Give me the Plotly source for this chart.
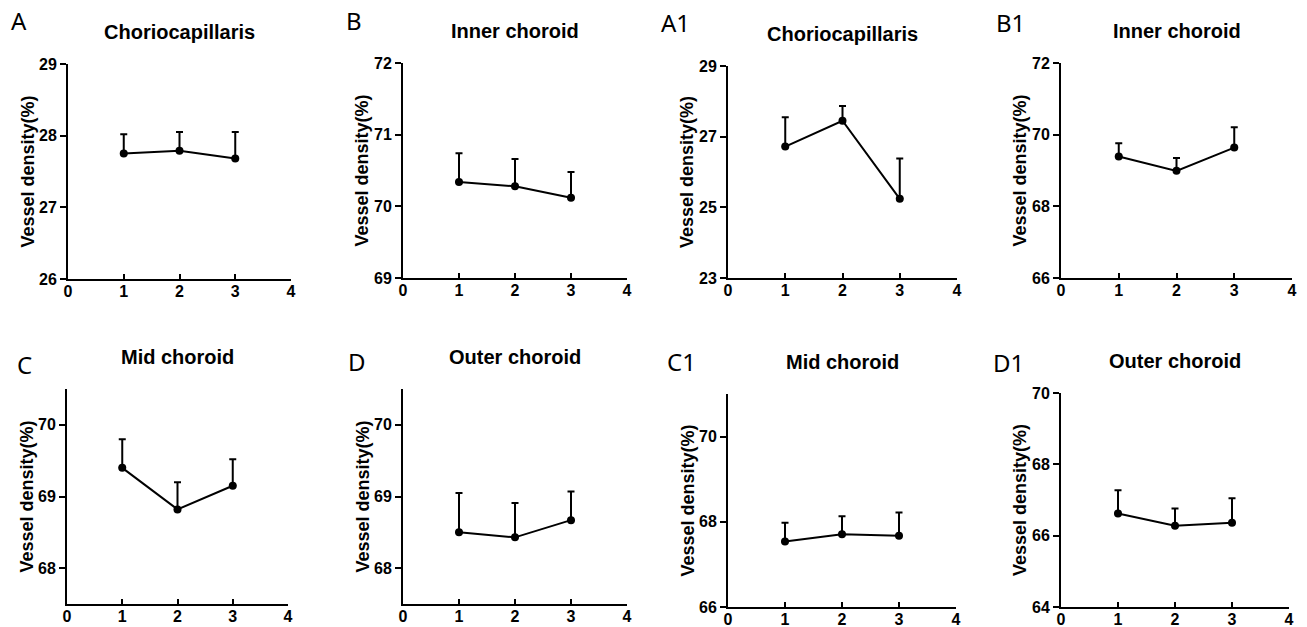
import plotly.graph_objects as go

W, H = 1307, 627

time_points = [1, 2, 3]
x_ticks = [0, 1, 2, 3, 4]

panel_letters = ["A", "B", "A1", "B1", "C", "D", "C1", "D1"]
panel_titles = ["Choriocapillaris", "Inner choroid", "Choriocapillaris", "Inner choroid",
                "Mid choroid", "Outer choroid", "Mid choroid", "Outer choroid"]

means_A = [27.75, 27.79, 27.68]
err_A = [0.27, 0.26, 0.37]
means_B = [70.34, 70.28, 70.12]
err_B = [0.40, 0.38, 0.36]
means_A1 = [26.72, 27.45, 25.24]
err_A1 = [0.83, 0.42, 1.14]
means_B1 = [69.39, 68.99, 69.64]
err_B1 = [0.37, 0.36, 0.57]
means_C = [69.40, 68.82, 69.15]
err_C = [0.40, 0.38, 0.37]
means_D = [68.50, 68.43, 68.67]
err_D = [0.55, 0.48, 0.40]
means_C1 = [67.54, 67.71, 67.67]
err_C1 = [0.44, 0.42, 0.55]
means_D1 = [66.62, 66.28, 66.36]
err_D1 = [0.65, 0.48, 0.69]

y_ranges = [[26, 29], [69, 72], [23, 29], [66, 72],
            [67.5, 70.5], [67.5, 70.5], [66, 71], [64, 70]]
y_ticks = [[26, 27, 28, 29], [69, 70, 71, 72], [23, 25, 27, 29], [66, 68, 70, 72],
           [68, 69, 70], [68, 69, 70], [66, 68, 70], [64, 66, 68, 70]]

all_means = [means_A, means_B, means_A1, means_B1, means_C, means_D, means_C1, means_D1]
all_errs = [err_A, err_B, err_A1, err_B1, err_C, err_D, err_C1, err_D1]

# panel plot-area boxes in pixels: left, right, top, bottom
boxes = [(68, 291, 64, 279), (403, 627, 63, 278), (728, 957, 66, 278), (1061, 1292, 63, 278),
         (67, 288, 389, 604), (403, 627, 389, 604), (728, 956, 394, 607), (1061, 1289, 393, 607)]
letter_pos = [(19, 21), (354, 21), (675, 22), (1010, 22),
              (25, 364), (357, 361), (682, 361), (1008, 362)]

fig = go.Figure()
tick_font = dict(family="Liberation Sans, Arial, sans-serif", size=16, color="black", weight="bold")
layout = {}
annotations = []
for i in range(8):
    n = i + 1
    xa = "x" if n == 1 else f"x{n}"
    ya = "y" if n == 1 else f"y{n}"
    l, r, t, b = boxes[i]
    fig.add_trace(go.Scatter(
        x=time_points, y=all_means[i], xaxis=xa, yaxis=ya,
        mode="lines+markers",
        line=dict(color="black", width=2),
        marker=dict(color="black", size=8),
        error_y=dict(type="data", symmetric=False, array=all_errs[i],
                     arrayminus=[0] * 3, color="black", thickness=2, width=3.5),
        showlegend=False, hoverinfo="skip",
    ))
    xkey = "xaxis" if n == 1 else f"xaxis{n}"
    ykey = "yaxis" if n == 1 else f"yaxis{n}"
    layout[xkey] = dict(
        domain=[l / W, r / W], anchor=ya, range=[0, 4], tickvals=x_ticks,
        showgrid=False, zeroline=False, showline=True, linecolor="black", linewidth=2,
        ticks="inside", ticklen=5, tickwidth=2, tickcolor="black",
        tickfont=tick_font, fixedrange=True, automargin=False, ticklabelstandoff=-3,
    )
    layout[ykey] = dict(
        domain=[1 - b / H, 1 - t / H], anchor=xa, range=y_ranges[i], tickvals=y_ticks[i],
        showgrid=False, zeroline=False, showline=True, linecolor="black", linewidth=2,
        ticks="outside", ticklen=6, tickwidth=2, tickcolor="black",
        tickfont=tick_font, fixedrange=True, automargin=False,
    )
    annotations.append(dict(
        text="<b>Vessel density(%)</b>", textangle=-90, showarrow=False,
        xref=f"{xa} domain", yref=f"{ya} domain", x=0, y=0.5,
        xanchor="center", yanchor="middle", xshift=-41,
        font=dict(family="Liberation Sans, Arial, sans-serif", size=18, color="black"),
    ))
    annotations.append(dict(
        text=f"<b>{panel_titles[i]}</b>", showarrow=False,
        xref=f"{xa} domain", yref=f"{ya} domain", x=0.5, y=1,
        xanchor="center", yanchor="middle", yshift=32,
        font=dict(family="Liberation Sans, Arial, sans-serif", size=20, color="black"),
    ))
    lx, ly = letter_pos[i]
    annotations.append(dict(
        text=panel_letters[i], showarrow=False, xref="paper", yref="paper",
        x=lx / W, y=1 - ly / H, xanchor="center", yanchor="middle",
        font=dict(family="Noto Sans, sans-serif", size=24, color="black"),
    ))

fig.update_layout(
    width=W, height=H, margin=dict(l=0, r=0, t=0, b=0, autoexpand=False),
    paper_bgcolor="white", plot_bgcolor="white",
    annotations=annotations, **layout,
)
fig.write_html("out.html", config={"displayModeBar": False},
               post_script="document.body.style.margin='0';document.body.style.overflow='hidden';")
